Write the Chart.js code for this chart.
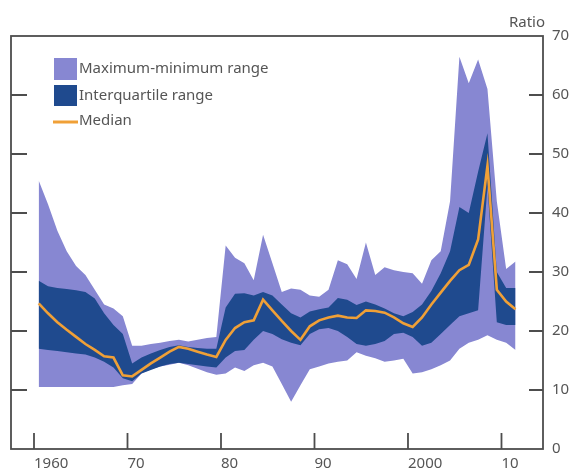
<!DOCTYPE html>
<html>
<head>
<meta charset="utf-8">
<script src="https://cdn.jsdelivr.net/npm/chart.js@4.4.1/dist/chart.umd.min.js"></script>
<style>
  html, body { margin: 0; padding: 0; background: #ffffff; }
  #wrap { width: 572px; height: 473px; position: relative; }
</style>
</head>
<body>
<div id="wrap"><canvas id="c" width="572" height="473"></canvas></div>
<script>
// Years (annual observations, plotted mid-year)
const years = [1960,1961,1962,1963,1964,1965,1966,1967,1968,1969,
               1970,1971,1972,1973,1974,1975,1976,1977,1978,1979,
               1980,1981,1982,1983,1984,1985,1986,1987,1988,1989,
               1990,1991,1992,1993,1994,1995,1996,1997,1998,1999,
               2000,2001,2002,2003,2004,2005,2006,2007,2008,2009,
               2010,2011];

const maxValues = [45.5,41.5,37.0,33.5,31.0,29.5,27.0,24.5,23.8,22.5,
                   17.5,17.5,17.8,18.0,18.3,18.5,18.2,18.5,18.8,19.0,
                   34.5,32.4,31.5,28.6,36.3,31.5,26.6,27.2,27.0,26.0,
                   25.8,27.0,32.0,31.3,28.8,35.0,29.5,30.8,30.3,30.0,
                   29.8,28.0,32.0,33.5,42.0,66.5,62.0,66.0,61.0,42.0,
                   30.5,31.8];

const minValues = [10.5,10.5,10.5,10.5,10.5,10.5,10.5,10.5,10.5,10.8,
                   11.0,12.8,13.5,14.0,14.3,14.6,14.2,13.6,13.0,12.6,
                   12.8,13.8,13.2,14.2,14.6,14.0,11.0,8.0,10.8,13.5,
                   14.0,14.5,14.8,15.0,16.4,15.8,15.4,14.8,15.0,15.3,
                   12.8,13.0,13.5,14.2,15.0,17.0,18.0,18.5,19.3,18.5,
                   18.0,16.8];

const q3Values = [28.5,27.6,27.3,27.1,26.9,26.6,25.5,23.0,21.0,19.5,
                  14.5,15.5,16.2,16.8,17.3,17.6,17.3,17.1,17.0,17.0,
                  24.0,26.3,26.4,26.0,26.6,26.0,24.5,23.0,22.3,23.3,
                  23.7,24.0,25.6,25.3,24.4,25.0,24.5,23.8,23.0,22.5,
                  23.2,24.5,26.8,29.8,33.5,41.0,40.0,47.0,53.5,30.0,
                  27.3,27.3];

const q1Values = [17.0,16.8,16.6,16.4,16.2,16.0,15.5,14.8,13.8,12.0,
                  11.5,12.8,13.4,14.0,14.4,14.6,14.4,14.2,14.0,13.8,
                  15.5,16.6,16.8,18.5,20.0,19.5,18.6,18.0,17.6,19.5,
                  20.3,20.5,20.0,19.0,17.8,17.5,17.8,18.3,19.5,19.7,
                  19.0,17.5,18.0,19.5,21.0,22.5,23.0,23.5,44.5,21.5,
                  21.0,21.0];

const medianValues = [24.7,23.0,21.5,20.2,19.0,17.8,16.8,15.7,15.5,12.5,
                      12.3,13.4,14.5,15.5,16.5,17.3,17.0,16.5,16.0,15.6,
                      18.5,20.5,21.5,21.8,25.3,23.5,21.7,20.0,18.5,20.8,
                      21.8,22.3,22.6,22.3,22.2,23.5,23.4,23.1,22.3,21.3,
                      20.7,22.3,24.5,26.5,28.5,30.3,31.2,35.5,48.0,27.0,
                      25.0,23.7];

const xTickValues = [1960,1970,1980,1990,2000,2010];
const xTickLabels = ['1960','70','80','90','2000','10'];
const yTickValues = [0,10,20,30,40,50,60,70];

const legendLabels = ['Maximum-minimum range','Interquartile range','Median'];
const axisTitle = 'Ratio';

const LIGHT = '#8787d2';
const DARK = '#1f4a8e';
const ORANGE = '#f0a037';
const FRAME = '#4d4d4d';
const TEXT = '#555555';
const FONT = '"Noto Sans", "Open Sans", sans-serif';

function pts(vals) { return years.map((y, i) => ({ x: y + 0.5, y: vals[i] })); }

const base = { pointRadius: 0, pointHoverRadius: 0, borderWidth: 0, tension: 0 };

const overlay = {
  id: 'overlay',
  afterDatasetsDraw(chart) {
    const ctx = chart.ctx;
    const a = chart.chartArea;
    const xs = chart.scales.x, ys = chart.scales.y;
    ctx.save();
    ctx.strokeStyle = FRAME;
    ctx.lineWidth = 1.8;
    ctx.strokeRect(a.left, a.top, a.right - a.left, a.bottom - a.top);
    ctx.lineWidth = 1.8;
    ctx.beginPath();
    yTickValues.forEach(v => {
      if (v === 0 || v === 70) return;
      const py = ys.getPixelForValue(v);
      ctx.moveTo(a.left, py); ctx.lineTo(a.left + 16, py);
      ctx.moveTo(a.right - 14, py); ctx.lineTo(a.right, py);
    });
    xTickValues.forEach(v => {
      const px = xs.getPixelForValue(v);
      ctx.moveTo(px, a.bottom); ctx.lineTo(px, a.bottom - 16);
    });
    ctx.stroke();

    // Legend
    const lx = a.left + 43, ly = a.top + 22;
    ctx.fillStyle = LIGHT;
    ctx.fillRect(lx, ly, 23, 22);
    ctx.fillStyle = DARK;
    ctx.fillRect(lx, ly + 27, 23, 21);
    ctx.strokeStyle = ORANGE;
    ctx.lineWidth = 3;
    ctx.beginPath();
    ctx.moveTo(lx - 1, ly + 64); ctx.lineTo(lx + 24, ly + 64);
    ctx.stroke();
    ctx.fillStyle = TEXT;
    ctx.font = '15px ' + FONT;
    ctx.textBaseline = 'middle';
    ctx.textAlign = 'left';
    ctx.fillText(legendLabels[0], lx + 25, ly + 11);
    ctx.fillText(legendLabels[1], lx + 25, ly + 38);
    ctx.fillText(legendLabels[2], lx + 25, ly + 63);

    // Axis title
    ctx.textAlign = 'right';
    ctx.fillText(axisTitle, a.right + 2, a.top - 13);
    ctx.restore();
  }
};

new Chart(document.getElementById('c'), {
  type: 'line',
  data: {
    datasets: [
      Object.assign({}, base, { label: 'Median', data: pts(medianValues), borderColor: ORANGE, borderWidth: 2.6, fill: false }),
      Object.assign({}, base, { label: 'q3', data: pts(q3Values), backgroundColor: DARK, fill: '+1' }),
      Object.assign({}, base, { label: 'q1', data: pts(q1Values), fill: false }),
      Object.assign({}, base, { label: 'max', data: pts(maxValues), backgroundColor: LIGHT, fill: '+1' }),
      Object.assign({}, base, { label: 'min', data: pts(minValues), fill: false })
    ]
  },
  options: {
    responsive: false,
    animation: false,
    events: [],
    layout: { padding: { top: 36, left: 11, right: 0, bottom: 0 } },
    plugins: { legend: { display: false }, tooltip: { enabled: false }, title: { display: false } },
    scales: {
      x: {
        type: 'linear',
        position: 'bottom',
        min: 1957.54,
        max: 2014.44,
        grid: { display: false, drawTicks: false },
        border: { display: false },
        afterBuildTicks(scale) { scale.ticks = xTickValues.map(v => ({ value: v })); },
        afterFit(scale) { scale.height = 24; },
        ticks: {
          align: 'start',
          padding: 6,
          color: TEXT,
          font: { family: FONT, size: 15 },
          autoSkip: false,
          maxRotation: 0,
          callback(v) { const i = xTickValues.indexOf(v); return i >= 0 ? xTickLabels[i] : ''; }
        }
      },
      y: {
        type: 'linear',
        position: 'right',
        min: 0,
        max: 70,
        grid: { display: false, drawTicks: false },
        border: { display: false },
        afterBuildTicks(scale) { scale.ticks = yTickValues.map(v => ({ value: v })); },
        afterFit(scale) { scale.width = 29; },
        ticks: {
          padding: 9,
          color: TEXT,
          font: { family: FONT, size: 15 },
          callback(v) { return String(v); }
        }
      }
    }
  },
  plugins: [overlay]
});
</script>
</body>
</html>
